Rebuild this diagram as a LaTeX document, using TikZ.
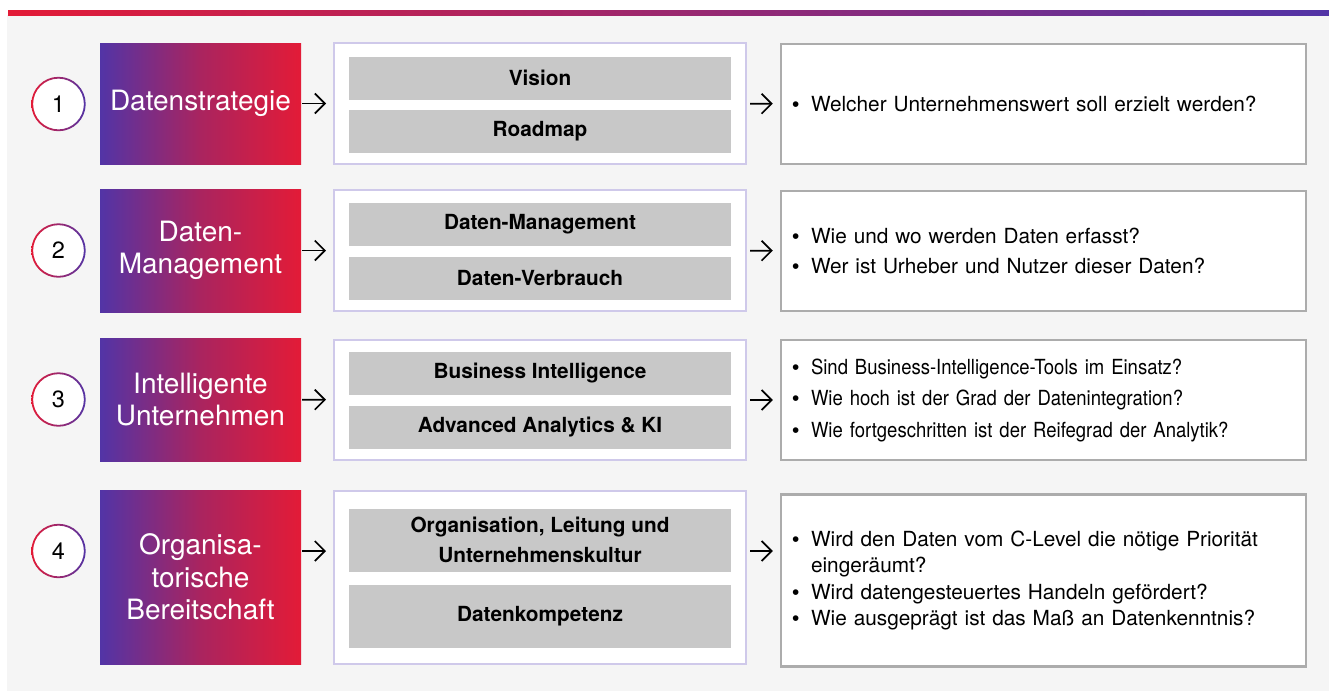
\documentclass[tikz,border=0pt]{standalone}
\usepackage{fontspec}
\setmainfont{TeX Gyre Heros}
\newfontfamily\narrowfont[FakeStretch=0.89]{TeX Gyre Heros}
\newfontfamily\bulletfont{Liberation Sans}
\usetikzlibrary{positioning, arrows.meta, shapes}

\definecolor{dred}{RGB}{227,27,55}
\definecolor{dpurple}{RGB}{82,52,166}
\definecolor{dmid}{RGB}{170,36,95}
\definecolor{bggrey}{RGB}{245,245,245}
\definecolor{boxgrey}{RGB}{200,200,200}
\definecolor{lavender}{RGB}{207,201,234}
\definecolor{framegrey}{RGB}{172,172,172}

\tikzstyle{topicbox} = [rectangle, minimum width=201pt, text width=195pt, align=center, text=white, left color=dpurple, right color=dred, middle color=dmid, font=\fontsize{28}{32.5}\selectfont, inner sep=0pt]
\tikzstyle{numcircle} = [circle, minimum size=51pt, fill=white, font=\fontsize{23.5}{26}\selectfont, inner sep=0pt]
\tikzstyle{ring} = [left color=dred, right color=dpurple, even odd rule]
\tikzstyle{groupbox} = [rectangle, minimum width=412pt, draw=lavender, line width=2pt, fill=white]
\tikzstyle{itembox} = [rectangle, minimum width=382pt, minimum height=43pt, fill=boxgrey, align=center, font=\bfseries\fontsize{20.8}{30}\selectfont, inner sep=0pt]
\tikzstyle{questionbox} = [rectangle, text width=503pt, align=left, draw=framegrey, line width=2.5pt, fill=white, inner xsep=11pt, inner ysep=0pt, font=\fontsize{20.8}{31}\selectfont]
\tikzstyle{arrow} = [line width=1.7pt, -{Straight Barb[length=10pt,width=20pt]}]

\newcommand{\qitem}[1]{\makebox[19pt][l]{{\bulletfont\textbullet}}#1}

\begin{document}
\begin{tikzpicture}[x=1pt, y=-1pt]
        \useasboundingbox (0,0) rectangle (1329,691);
        \fill [bggrey] (7,15) rectangle (1329,691);
        \shade [left color=dred, right color=dpurple] (8,10) rectangle (1329,15);

        % row 1
        \node (num1) [numcircle] at (58.5,104) {1};
        \shade [ring] (num1.center) circle (27.2pt) circle (25.4pt);
        \node (topic1) [topicbox, minimum height=121pt] at (200.5,103.5) {Datenstrategie};
        \node (grp1) [groupbox, minimum height=121pt] at (540,103.5) {};
        \node (vision) [itembox] at (540,78) {Vision};
        \node (roadmap) [itembox] at (540,131) {Roadmap};
        \node (quest1) [questionbox, minimum height=120pt] at (1043.5,104) {\qitem{Welcher Unternehmenswert soll erzielt werden?}};

        % row 2
        \node (num2) [numcircle] at (58.5,250.5) {2};
        \shade [ring] (num2.center) circle (27.2pt) circle (25.4pt);
        \node (topic2) [topicbox, minimum height=123pt] at (200.5,250.5) {Daten-\\Management};
        \node (grp2) [groupbox, minimum height=121pt] at (540,250.5) {};
        \node (datman) [itembox] at (540,224) {Daten-Management};
        \node (datverb) [itembox] at (540,278) {Daten-Verbrauch};
        \node (quest2) [questionbox, minimum height=120pt, font=\fontsize{20.8}{30}\selectfont] at (1043.5,251) {\qitem{Wie und wo werden Daten erfasst?}\\
            \qitem{Wer ist Urheber und Nutzer dieser Daten?}};

        % row 3
        \node (num3) [numcircle] at (58.5,399.5) {3};
        \shade [ring] (num3.center) circle (27.2pt) circle (25.4pt);
        \node (topic3) [topicbox, minimum height=123pt] at (200.5,399.5) {Intelligente\\Unternehmen};
        \node (grp3) [groupbox, minimum height=120pt] at (540,400) {};
        \node (busint) [itembox] at (540,373) {Business Intelligence};
        \node (advana) [itembox] at (540,427) {Advanced Analytics \& KI};
        \node (quest3) [questionbox, minimum height=120pt, font=\narrowfont\fontsize{20.8}{31.5}\selectfont] at (1043.5,400) {\qitem{Sind Business-Intelligence-Tools im Einsatz?}\\
            \qitem{Wie hoch ist der Grad der Datenintegration?}\\
            \qitem{Wie fortgeschritten ist der Reifegrad der Analytik?}};

        % row 4
        \node (num4) [numcircle] at (58.5,551) {4};
        \shade [ring] (num4.center) circle (27.2pt) circle (25.4pt);
        \node (topic4) [topicbox, minimum height=174pt] at (200.5,577) {Organisa-\\torische\\Bereitschaft};
        \node (grp4) [groupbox, minimum height=173pt] at (540,577.5) {};
        \node (orga) [itembox, minimum height=63pt] at (540,540) {Organisation, Leitung und\\Unternehmenskultur};
        \node (kompetenz) [itembox, minimum height=63pt] at (540,616) {Datenkompetenz};
        \node (quest4) [questionbox, minimum height=172pt, font=\fontsize{20.8}{26.5}\selectfont] at (1043.5,580.5) {\qitem{Wird den Daten vom C-Level die nötige Priorität}\\
            \hspace*{19pt}eingeräumt?\\
            \qitem{Wird datengesteuertes Handeln gefördert?}\\
            \qitem{Wie ausgeprägt ist das Maß an Datenkenntnis?}};

        \draw [arrow, shorten <=1pt, shorten >=7pt] (topic1) -- (grp1);
        \draw [arrow, shorten <=3pt, shorten >=7pt] (grp1) -- (quest1);
        \draw [arrow, shorten <=1pt, shorten >=7pt] (topic2) -- (grp2);
        \draw [arrow, shorten <=3pt, shorten >=7pt] (grp2) -- (quest2);
        \draw [arrow, shorten <=1pt, shorten >=7pt] (topic3) -- (grp3);
        \draw [arrow, shorten <=3pt, shorten >=7pt] (grp3) -- (quest3);
        \draw [arrow, shorten <=1pt, shorten >=7pt] (topic4.east |- num4) -- (grp4.west |- num4);
        \draw [arrow, shorten <=3pt, shorten >=7pt] (grp4.east |- num4) -- (quest4.west |- num4);

\end{tikzpicture}
\end{document}
